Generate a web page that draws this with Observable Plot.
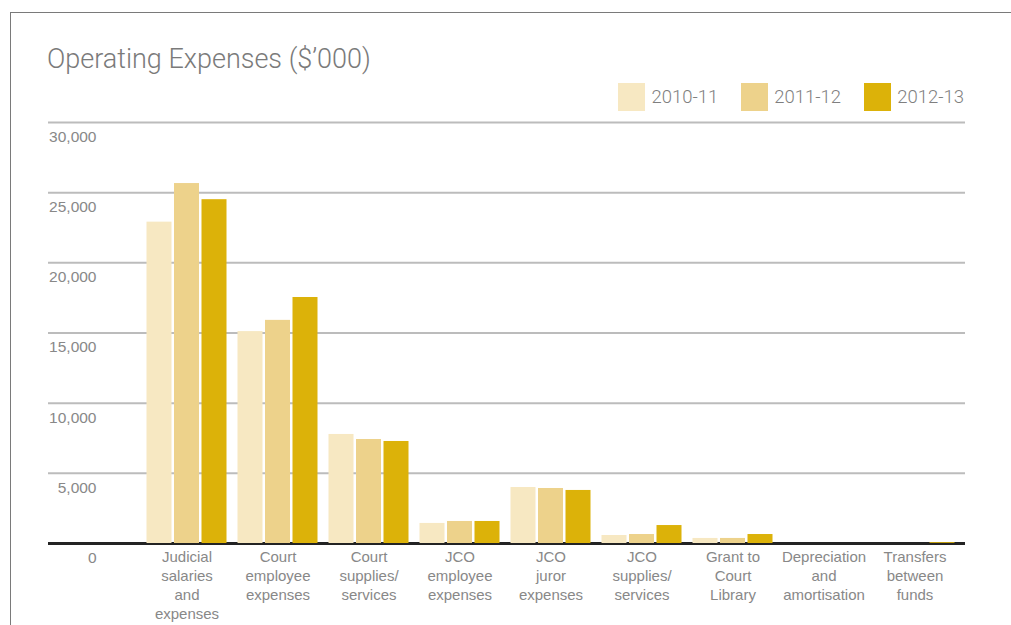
<!DOCTYPE html>
<html>
<head>
<meta charset="utf-8">
<script src="https://cdn.jsdelivr.net/npm/d3@7"></script>
<script src="https://cdn.jsdelivr.net/npm/@observablehq/plot@0.6"></script>
<style>
  html, body { margin: 0; padding: 0; background: #fff; }
  #wrap { position: relative; width: 1011px; height: 625px; overflow: hidden; font-family: "Liberation Sans", Arial, sans-serif; }
  #frame { position: absolute; left: 10px; top: 12px; width: 1100px; height: 700px; border-left: 1.5px solid #7a7a7a; border-top: 1.5px solid #7a7a7a; }
  #title { position: absolute; left: 47px; top: 43px; font-size: 27px; color: #7a7a7a; font-family: Roboto, "Liberation Sans", sans-serif; font-weight: 300; white-space: nowrap; }
  #legend { position: absolute; right: 47px; top: 83px; display: flex; align-items: center; font-size: 18.5px; color: #7f7f7f; font-family: Roboto, "Liberation Sans", sans-serif; font-weight: 300; }
  #legend .item { display: flex; align-items: center; margin-left: 23px; }
  #legend .sw { width: 27px; height: 28px; margin-right: 6px; }
  #chart { position: absolute; left: 0; top: 0; }
</style>
</head>
<body>
<div id="wrap">
  <div id="frame"></div>
  <div id="chart"></div>
  <div id="title">Operating Expenses ($’000)</div>
  <div id="legend"></div>
</div>
<script>
// ---- Data ----
const categories = [
  "Judicial\nsalaries\nand\nexpenses",
  "Court\nemployee\nexpenses",
  "Court\nsupplies/\nservices",
  "JCO\nemployee\nexpenses",
  "JCO\njuror\nexpenses",
  "JCO\nsupplies/\nservices",
  "Grant to\nCourt\nLibrary",
  "Depreciation\nand\namortisation",
  "Transfers\nbetween\nfunds"
];
const years = ["2010-11", "2011-12", "2012-13"];
const values2010 = [22900, 15100, 7770, 1430, 3990, 570, 360, 0, 0];
const values2011 = [25650, 15900, 7410, 1570, 3920, 640, 360, 0, 0];
const values2012 = [24500, 17530, 7270, 1570, 3780, 1280, 640, 0, 60];
const yTicks = [0, 5000, 10000, 15000, 20000, 25000, 30000];
const colors = ["#f7e8c2", "#edd28b", "#dcb209"];

const series = [values2010, values2011, values2012];
const data = categories.flatMap((c, i) => years.map((yr, j) => ({category: c, year: yr, value: series[j][i]})));
const fmt = d3.format(",");

// ---- Legend ----
const legend = document.getElementById("legend");
years.forEach((yr, j) => {
  const item = document.createElement("div");
  item.className = "item";
  const sw = document.createElement("div");
  sw.className = "sw";
  sw.style.background = colors[j];
  const lab = document.createElement("span");
  lab.textContent = yr;
  item.appendChild(sw);
  item.appendChild(lab);
  legend.appendChild(item);
});

// ---- Chart ----
const font = "Liberation Sans, Arial, sans-serif";
const chart = Plot.plot({
  width: 1011,
  height: 625,
  marginTop: 122,
  marginBottom: 82,
  marginLeft: 48,
  marginRight: 46,
  style: {background: "transparent", fontFamily: font},
  x: {domain: categories, range: [139.5, 961.5], padding: 0, axis: null},
  y: {domain: [0, 30000], axis: null},
  marks: [
    Plot.ruleY(yTicks.filter(d => d > 0), {stroke: "#bcbcbc", strokeWidth: 2}),
    Plot.ruleY([0], {stroke: "#232323", strokeWidth: 3}),
    ...years.map((yr, j) => Plot.barY(data.filter(d => d.year === yr), {
      x: "category", y: "value", fill: colors[j],
      dx: (j - 1) * 27.5, insetLeft: 33, insetRight: 33
    })),
    Plot.text(yTicks, {
      y: d => d, text: d => fmt(d), frameAnchor: "left", dx: 48, dy: 14.5,
      textAnchor: "end", fill: "#888", fontSize: 15.5, fontFamily: font
    }),
    Plot.text(categories, {
      x: d => d, y: () => 0, text: d => d, lineAnchor: "top", dy: 5,
      lineHeight: 1.27, fill: "#888", fontSize: 15, fontFamily: font
    })
  ]
});
document.getElementById("chart").appendChild(chart);
</script>
</body>
</html>
